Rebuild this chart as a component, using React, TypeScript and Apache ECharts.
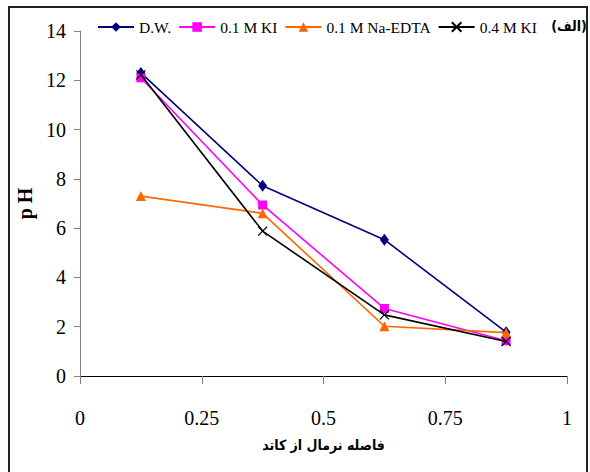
import React, { useEffect, useRef } from "react";
import * as echarts from "echarts";

const xValues = [0.125, 0.375, 0.625, 0.875];
const seriesNames = ["D.W.", "0.1 M KI", "0.1 M Na-EDTA", "0.4 M KI"];
const dwValues = [12.3, 7.72, 5.53, 1.78];
const ki01Values = [12.1, 6.94, 2.74, 1.43];
const edtaValues = [7.3, 6.6, 2.02, 1.76];
const ki04Values = [12.22, 5.88, 2.48, 1.4];
const xTicks = [0, 0.25, 0.5, 0.75, 1];
const yTicks = [0, 2, 4, 6, 8, 10, 12, 14];

const serif = "Liberation Serif";
const arabic = "DejaVu Sans Condensed";

export default function App() {
  const ref = useRef<HTMLDivElement>(null);
  useEffect(() => {
    if (!ref.current) return;
    const chart = echarts.init(ref.current, null, { renderer: "svg" });
    const pair = (vals: number[]) => xValues.map((x, i) => [x, vals[i]]);
    const colors = ["#000080", "#FF00FF", "#FF6600", "#000000"];
    const symbols = ["diamond", "rect", "triangle", "path://M0,0L10,10M10,0L0,10"];
    const sizes: any[] = [[9, 12], 9, [10, 10], 9];
    const data = [dwValues, ki01Values, edtaValues, ki04Values];
    chart.setOption({
      animation: false,
      backgroundColor: "#fff",
      textStyle: { fontFamily: serif },
      grid: { left: 80, right: 23, top: 31, bottom: 96, containLabel: false },
      legend: {
        top: 19,
        left: 97,
        padding: 0,
        itemWidth: 36,
        itemHeight: 12,
        itemGap: 7,
        textStyle: { fontFamily: serif, fontSize: 15.5, color: "#000" },
        data: seriesNames,
      },
      xAxis: {
        type: "value",
        min: xTicks[0],
        max: xTicks[xTicks.length - 1],
        interval: 0.25,
        splitLine: { show: false },
        axisLine: { lineStyle: { color: "#000", width: 1 } },
        axisTick: { show: true, inside: false, length: 8, lineStyle: { color: "#808080" } },
        axisLabel: {
          margin: 32,
          fontFamily: serif,
          fontSize: 20,
          color: "#000",
          formatter: (v: number) => String(v),
        },
        name: "فاصله نرمال از کاتد",
        nameLocation: "middle",
        nameGap: 62,
        nameTextStyle: { fontFamily: arabic, fontWeight: "bold", fontSize: 14, color: "#000" },
      },
      yAxis: {
        type: "value",
        min: yTicks[0],
        max: yTicks[yTicks.length - 1],
        interval: 2,
        splitLine: { show: false },
        axisLine: { show: true, lineStyle: { color: "#808080", width: 1 } },
        axisTick: { show: true, inside: false, length: 6, lineStyle: { color: "#808080" } },
        axisLabel: { margin: 14, fontFamily: serif, fontSize: 20, color: "#000" },
        name: "p H",
        nameLocation: "middle",
        nameGap: 35,
        nameRotate: 90,
        nameTextStyle: { fontFamily: serif, fontWeight: "bold", fontSize: 20, color: "#000" },
      },
      graphic: [
        {
          type: "rect",
          shape: { x: 9, y: 7, width: 578, height: 475 },
          style: { fill: "none", stroke: "#222", lineWidth: 2 },
          silent: true,
        },
        {
          type: "text",
          x: 569,
          y: 26,
          style: {
            text: "(الف)",
            fontFamily: arabic,
            fontWeight: "bold",
            fontSize: 14,
            fill: "#000",
            align: "center",
            verticalAlign: "middle",
          },
        },
      ],
      series: seriesNames.map((name, i) => ({
        name,
        type: "line",
        data: pair(data[i]),
        symbol: symbols[i],
        symbolSize: sizes[i],
        showSymbol: true,
        lineStyle: { color: colors[i], width: 1.6 },
        itemStyle:
          i === 3
            ? { color: "#000", borderColor: "#000", borderWidth: 1.3 }
            : { color: colors[i], borderWidth: 0 },
        z: 2 + i,
      })),
    });
    return () => chart.dispose();
  }, []);
  return (
    <div
      ref={ref}
      style={{ position: "absolute", left: 0, top: 0, width: 590, height: 472 }}
    />
  );
}
